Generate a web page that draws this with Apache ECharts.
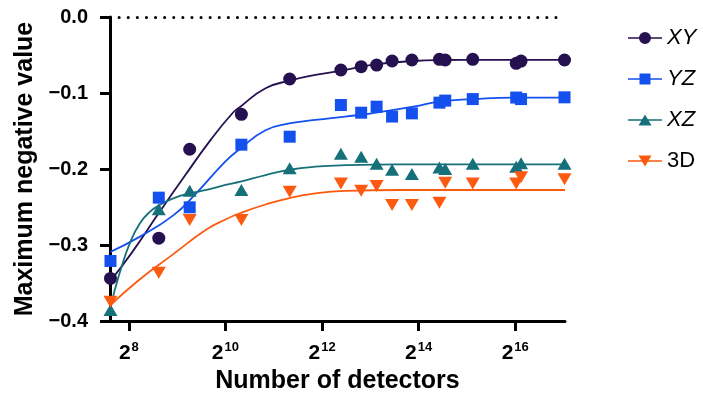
<!DOCTYPE html>
<html>
<head>
<meta charset="utf-8">
<script src="https://cdn.jsdelivr.net/npm/echarts@6/dist/echarts.min.js"></script>
<style>html,body{margin:0;padding:0;background:#fff}#c{width:703px;height:394px}</style>
</head>
<body>
<div id="c"></div>
<script>
// x values are log2(number of detectors)
const log2Detectors = [7.62, 8.62, 9.26, 10.33, 11.33, 12.39, 12.81, 13.13, 13.45, 13.86, 14.43, 14.55, 15.12, 16.02, 16.12, 17.02];
const xyValues = [-0.344, -0.291, -0.174, -0.128, -0.0816, -0.0697, -0.0654, -0.0632, -0.0579, -0.0566, -0.0557, -0.0566, -0.0557, -0.061, -0.058, -0.0566];
const yzValues = [-0.321, -0.2377, -0.2504, -0.168, -0.1575, -0.1158, -0.1259, -0.118, -0.131, -0.1268, -0.1127, -0.110, -0.108, -0.106, -0.108, -0.1057];
const xzValues = [-0.3855, -0.253, -0.2285, -0.2276, -0.199, -0.180, -0.184, -0.193, -0.201, -0.2066, -0.198, -0.200, -0.193, -0.197, -0.1925, -0.193];
const d3Values = [-0.3746, -0.3364, -0.267, -0.267, -0.2298, -0.219, -0.2285, -0.2224, -0.2474, -0.2474, -0.2443, -0.218, -0.219, -0.219, -0.211, -0.2136];

// fitted curves
const xyFitX = [7.62, 8.04, 8.62, 9.17, 9.69, 10.14, 10.31, 10.83, 11.33, 11.86, 12.48, 13.0, 13.89, 14.45, 15.5, 17.03];
const xyFitY = [-0.347, -0.312, -0.258, -0.208, -0.162, -0.127, -0.118, -0.0938, -0.0838, -0.0763, -0.0697, -0.0632, -0.0579, -0.0566, -0.0563, -0.0563];
const yzFitX = [7.62, 8.23, 8.92, 9.35, 10.0, 10.31, 10.83, 11.32, 11.86, 12.48, 13.0, 13.89, 14.45, 15.13, 15.96, 17.03];
const yzFitY = [-0.309, -0.289, -0.261, -0.235, -0.190, -0.173, -0.149, -0.140, -0.1355, -0.131, -0.127, -0.118, -0.111, -0.108, -0.106, -0.106];
const xzFitX = [7.62, 7.71, 7.85, 8.02, 8.23, 8.44, 8.64, 8.92, 9.26, 9.61, 10.0, 10.31, 10.83, 11.33, 11.86, 12.48, 13.62, 17.03];
const xzFitY = [-0.383, -0.359, -0.3286, -0.2978, -0.2714, -0.2562, -0.2474, -0.2386, -0.232, -0.2276, -0.221, -0.2167, -0.208, -0.201, -0.197, -0.195, -0.194, -0.194];
const d3FitX = [7.62, 8.21, 8.90, 9.59, 10.0, 10.31, 10.83, 11.33, 11.86, 12.48, 13.62, 17.03];
const d3FitY = [-0.379, -0.346, -0.313, -0.2803, -0.2664, -0.2579, -0.2467, -0.2382, -0.2322, -0.2289, -0.2276, -0.2276];

const xTickExponents = [8, 10, 12, 14, 16];
const seriesNames = ['XY', 'YZ', 'XZ', '3D'];
const colors = ['#25114f', '#1450ee', '#16707a', '#fb5a10'];

const FONT = "'Liberation Sans', Arial, sans-serif";
const zip = (xs, ys) => xs.map((x, i) => [x, ys[i]]);

const pointSets = [xyValues, yzValues, xzValues, d3Values];
const fitSets = [[xyFitX, xyFitY], [yzFitX, yzFitY], [xzFitX, xzFitY], [d3FitX, d3FitY]];
const symbols = ['circle', 'rect', 'triangle', 'triangle'];
const symbolSizes = [13, 12, [14, 12], [14, 12]];
const rotations = [0, 0, 0, 180];
const lineBar = 'M0,5.2H34V6.8H0Z ';
const legendIcons = [
  'path://' + lineBar + 'M11,6a6,6 0 1,1 12,0a6,6 0 1,1 -12,0Z',
  'path://' + lineBar + 'M11.5,0.5H22.5V11.5H11.5Z',
  'path://' + lineBar + 'M17,0.5L23.5,11.5H10.5Z',
  'path://' + lineBar + 'M10.5,0.5H23.5L17,11.5Z'
];

const series = [];
seriesNames.forEach((name, i) => {
  series.push({
    name: name, type: 'line', data: zip(fitSets[i][0], fitSets[i][1]),
    showSymbol: false, smooth: 0.5,
    lineStyle: { color: colors[i], width: 1.8 }, itemStyle: { color: colors[i] },
    silent: true, z: 2,
    markLine: i === 0 ? {
      silent: true, symbol: 'none', label: { show: false },
      lineStyle: { color: '#000', type: [0.1, 9], width: 3, cap: 'round' },
      data: [{ yAxis: 0 }]
    } : undefined
  });
});
seriesNames.forEach((name, i) => {
  series.push({
    name: name, type: 'scatter', data: zip(log2Detectors, pointSets[i]),
    symbol: symbols[i], symbolSize: symbolSizes[i], symbolRotate: rotations[i],
    itemStyle: { color: colors[i], opacity: 1 }, z: 3
  });
});

const chart = echarts.init(document.getElementById('c'), null, { renderer: 'canvas' });
chart.setOption({
  animation: false,
  backgroundColor: '#fff',
  grid: { left: 110, right: 138, top: 17, bottom: 73, outerBoundsMode: 'none' },
  legend: {
    orient: 'vertical', left: 623, top: 22, itemWidth: 34, itemHeight: 12, itemGap: 19,
    selectedMode: false,
    textStyle: { fontSize: 22, color: '#000', fontFamily: FONT },
    data: seriesNames.map((n, i) => ({
      name: n, icon: legendIcons[i],
      textStyle: { fontStyle: i < 3 ? 'italic' : 'normal', fontSize: 22, color: '#000', fontFamily: FONT }
    }))
  },
  xAxis: {
    type: 'value', min: 7.61, max: 17.03,
    name: 'Number of detectors', nameLocation: 'middle', nameGap: 46,
    nameTextStyle: { fontSize: 25, fontWeight: 'bold', color: '#000', fontFamily: FONT },
    axisLine: { show: true, onZero: false, lineStyle: { color: '#000', width: 3 } },
    axisTick: { show: true, length: 10, inside: false, lineStyle: { color: '#000', width: 3 }, customValues: xTickExponents },
    axisLabel: {
      customValues: xTickExponents, margin: 20,
      formatter: v => '{a|2}{s|' + v + '}',
      rich: {
        a: { fontSize: 21, fontWeight: 'bold', color: '#000', fontFamily: FONT, lineHeight: 24 },
        s: { fontSize: 13, fontWeight: 'bold', color: '#000', fontFamily: FONT, verticalAlign: 'top', lineHeight: 24, padding: [0, 0, 0, 1] }
      }
    },
    splitLine: { show: false }
  },
  yAxis: {
    type: 'value', min: -0.4, max: 0, interval: 0.1,
    name: 'Maximum negative value', nameLocation: 'middle', nameGap: 66, nameRotate: 90,
    nameTextStyle: { fontSize: 25, fontWeight: 'bold', color: '#000', fontFamily: FONT },
    axisLine: { show: true, onZero: false, lineStyle: { color: '#000', width: 3 } },
    axisTick: { show: true, length: 10, inside: false, lineStyle: { color: '#000', width: 3 } },
    axisLabel: {
      margin: 22, fontSize: 20, fontWeight: 'bold', color: '#000', fontFamily: FONT,
      formatter: v => Math.abs(v) < 1e-9 ? '0.0' : '\u2212' + Math.abs(v).toFixed(1)
    },
    splitLine: { show: false }
  },
  series: series
});
</script>
</body>
</html>
